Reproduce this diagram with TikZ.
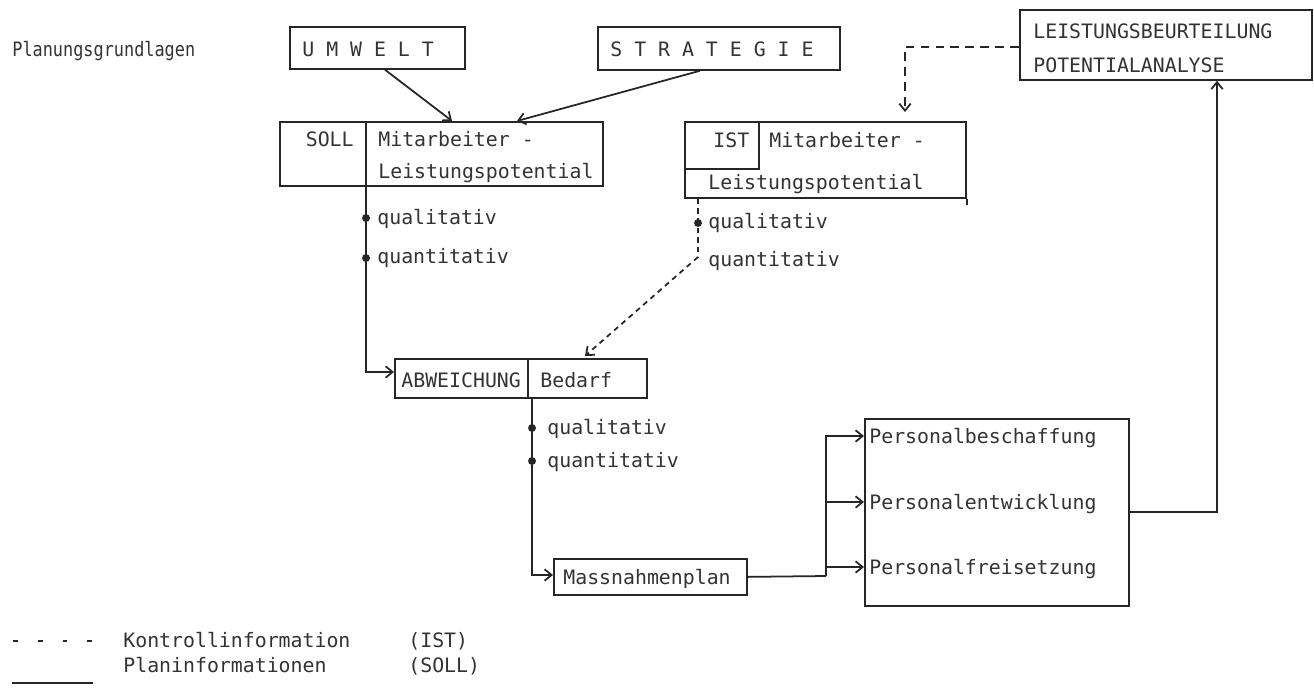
\documentclass[tikz,border=0pt]{standalone}
\usepackage{fontspec}
\newfontfamily\tw{DejaVu Sans Mono}
\usetikzlibrary{arrows.meta,calc}
\newcommand\pxu{0.02cm}

\begin{document}
\begin{tikzpicture}[x=0.02cm,y=-0.02cm,
  ln/.style={line width=1pt, draw=black!85},
  box/.style={ln, inner sep=0pt, anchor=north west},
  txt/.style={inner sep=0pt, anchor=base west, font=\tw\fontsize{11.3}{13}\selectfont, text=black!80},
  tip/.style={-{Straight Barb[length=4pt,width=6.5pt]}},
  arr/.style={ln, tip},
  ctrl/.style={ln, dash pattern=on 3pt off 2.5pt},
  ctrllong/.style={ln, dash pattern=on 5pt off 3.5pt},
  dot/.style={circle, fill=black!85, inner sep=0pt, minimum size=4.5pt}]

\path[use as bounding box, fill=white] (0,0) rectangle (1314,689);

% ---------- boxes ----------
\node[box, minimum width=175*\pxu, minimum height=42*\pxu] (umwelt) at (289,26) {};
\node[box, minimum width=242*\pxu, minimum height=43*\pxu] (strat) at (597,26) {};
\node[box, minimum width=292*\pxu, minimum height=70*\pxu] (leist) at (1019,9) {};
\node[box, minimum width=323*\pxu, minimum height=64*\pxu] (soll) at (279,121) {};
\node[box, minimum width=281*\pxu, minimum height=76*\pxu] (ist) at (684,121) {};
\node[box, minimum width=74*\pxu, minimum height=47*\pxu] (isttag) at (684,121) {};
\node[box, minimum width=252*\pxu, minimum height=39*\pxu] (abw) at (394,358) {};
\node[box, minimum width=193*\pxu, minimum height=36*\pxu] (mass) at (553,558) {};
\node[box, minimum width=264*\pxu, minimum height=187*\pxu] (pers) at (864,418) {};

% dividers and the tail of the IST box
\draw[ln] ($(soll.north west)+(87,0)$) -- ($(soll.south west)+(87,0)$);
\draw[ln] ($(abw.north west)+(134,0)$) -- ($(abw.south west)+(134,0)$);
\draw[ln] (ist.south east) -- ++(0,6);

% ---------- texts ----------
\node[txt] (tplan) at (12,57) {\scalebox{0.85}[1]{Planungsgrundlagen}};
\node[txt] (tumw) at (302,57) {U M W E L T};
\node[txt] (tstr) at (610,57) {S T R A T E G I E};
\node[txt] (tl1) at (1033,39) {LEISTUNGSBEURTEILUNG};
\node[txt] (tl2) at (1033,73) {POTENTIALANALYSE};

\node[txt, anchor=base east] (tsoll) at (354,147) {SOLL};
\node[txt] (tsm) at (378,147) {Mitarbeiter -};
\node[txt] (tsl) at (378,179) {Leistungspotential};

\node[txt] (tist) at (713,148) {IST};
\node[txt] (tim) at (769,148) {Mitarbeiter -};
\node[txt] (til) at (708,190) {Leistungspotential};

\node[txt] (q1) at (377,224) {qualitativ};
\node[txt] (n1) at (377,263) {quantitativ};
\node[txt] (q2) at (708,229) {qualitativ};
\node[txt] (n2) at (708,266) {quantitativ};

\node[txt] (tabw) at (401,387) {ABWEICHUNG};
\node[txt] (tbed) at (540,387) {Bedarf};
\node[txt] (q3) at (547,434) {qualitativ};
\node[txt] (n3) at (547,467) {quantitativ};

\node[txt] (tmass) at (563,584) {Massnahmenplan};
\node[txt] (tp1) at (869,443) {Personalbeschaffung};
\node[txt] (tp2) at (869,509) {Personalentwicklung};
\node[txt] (tp3) at (869,574) {Personalfreisetzung};

% ---------- connectors ----------
\draw[arr] ($(umwelt.south west)+(96,0)$) -- ($(soll.north west)+(173,0)$);
\draw[arr] ($(strat.south west)+(103,0)$) -- ($(soll.north west)+(238,0)$);

\draw[ctrllong, tip] ($(leist.north west)+(0,38)$) -| ($(ist.north west)+(221,-9)$);

% plan information from SOLL
\draw[arr] ($(soll.south west)+(87,0)$) |- ($(abw.north west)+(0,14)$);
\node[dot] (d1) at (366,218) {};
\node[dot] (d2) at (366,258) {};

% control information from IST
\coordinate (bend) at (698,257);
\draw[ctrl] ($(ist.south west)+(14,0)$) -- (bend);
\draw[ctrl, tip] (bend) -- ($(abw.north west)+(191,-2)$);
\node[dot] (d3) at (698,223) {};

% from the deviation to the plan of measures
\draw[arr] ($(abw.south west)+(138,0)$) |- ($(mass.north west)+(0,17)$);
\node[dot] (d4) at (532,428) {};
\node[dot] (d5) at (532,461) {};

\coordinate (split) at (826,576);
\draw[ln] (mass.east) -- (split);
\draw[arr] (split) |- ($(pers.north west)+(0,18)$);
\draw[arr] (split) |- ($(pers.north west)+(0,84)$);
\draw[arr] (split) |- ($(pers.north west)+(0,149)$);

\draw[arr] ($(pers.north east)+(0,94)$) -| ($(leist.south west)+(198,0)$);

% ---------- legend ----------
\coordinate (la1) at (13,641);
\coordinate (la2) at (93,641);
\coordinate (lb1) at (12,683);
\coordinate (lb2) at (93,683);
\draw[ln, dash pattern=on 2.8pt off 11.3pt] (la1) -- (la2);
\draw[ln] (lb1) -- (lb2);
\node[txt] (lk) at (123,647) {Kontrollinformation};
\node[txt] (lki) at (408,647) {(IST)};
\node[txt] (lp) at (123,672) {Planinformationen};
\node[txt] (lps) at (408,672) {(SOLL)};
\end{tikzpicture}
\end{document}
